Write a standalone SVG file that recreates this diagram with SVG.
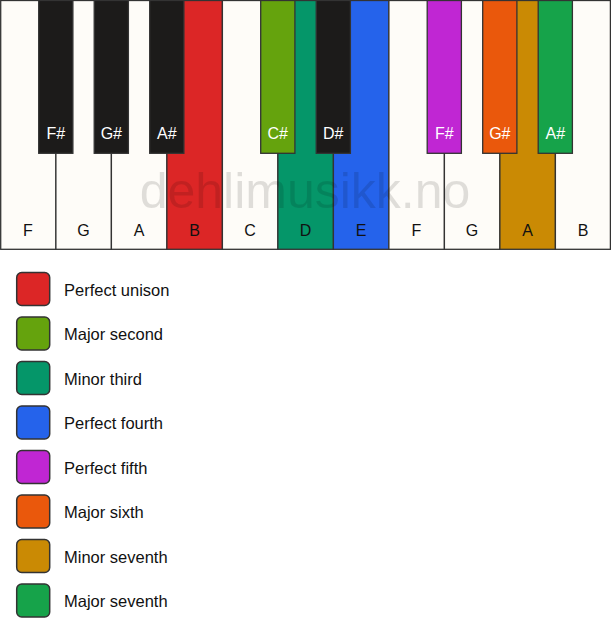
<svg xmlns="http://www.w3.org/2000/svg" width="611" height="639" viewBox="0 0 611 639">
<style>
text{font-family:"Liberation Sans",Arial,sans-serif;font-size:16px}
.w{fill:#fefcf8;stroke:#333;stroke-width:1.3}
.b{fill:#1c1b1a;stroke:#333;stroke-width:1.3}
.wl{fill:#111;text-anchor:middle}
.bl{fill:#fff;text-anchor:middle}
.sw{stroke:#333;stroke-width:1.5}
.lt{fill:#111;font-size:16.5px}
.wm{font-size:50px;fill:#000;fill-opacity:0.12;text-anchor:middle}
</style>
<rect width="611" height="639" fill="#ffffff"/>
<g id="white-keys">
<g id="key-F1"><rect class="w" x="0.7" y="0.5" width="55.2" height="248.8"/><text class="wl" x="28" y="236">F</text></g>
<g id="key-G1"><rect class="w" x="55.9" y="0.5" width="55.5" height="248.8"/><text class="wl" x="83.5" y="236">G</text></g>
<g id="key-A1"><rect class="w" x="111.4" y="0.5" width="55.5" height="248.8"/><text class="wl" x="139" y="236">A</text></g>
<g id="key-B1"><rect class="w" x="166.9" y="0.5" width="55.5" height="248.8" style="fill:#dc2626"/><text class="wl" x="194.5" y="236">B</text></g>
<g id="key-C"><rect class="w" x="222.4" y="0.5" width="55.5" height="248.8"/><text class="wl" x="250" y="236">C</text></g>
<g id="key-D"><rect class="w" x="277.9" y="0.5" width="55.5" height="248.8" style="fill:#059669"/><text class="wl" x="305.5" y="236">D</text></g>
<g id="key-E"><rect class="w" x="333.4" y="0.5" width="55.5" height="248.8" style="fill:#2563eb"/><text class="wl" x="361" y="236">E</text></g>
<g id="key-F2"><rect class="w" x="388.9" y="0.5" width="55.5" height="248.8"/><text class="wl" x="416.5" y="236">F</text></g>
<g id="key-G2"><rect class="w" x="444.4" y="0.5" width="55.5" height="248.8"/><text class="wl" x="472" y="236">G</text></g>
<g id="key-A2"><rect class="w" x="499.9" y="0.5" width="55.5" height="248.8" style="fill:#ca8a04"/><text class="wl" x="527.5" y="236">A</text></g>
<g id="key-B2"><rect class="w" x="555.4" y="0.5" width="55" height="248.8"/><text class="wl" x="583" y="236">B</text></g>
</g>
<text class="wm" x="305" y="208">dehlimusikk.no</text>
<g id="black-keys">
<g id="key-Fs1"><rect class="b" x="38.7" y="0.5" width="34.2" height="152.8"/><text class="bl" x="55.8" y="139">F#</text></g>
<g id="key-Gs1"><rect class="b" x="94.2" y="0.5" width="34.2" height="152.8"/><text class="bl" x="111.3" y="139">G#</text></g>
<g id="key-As1"><rect class="b" x="149.7" y="0.5" width="34.2" height="152.8"/><text class="bl" x="166.8" y="139">A#</text></g>
<g id="key-Cs"><rect class="b" x="260.7" y="0.5" width="34.2" height="152.8" style="fill:#65a30d"/><text class="bl" x="277.8" y="139">C#</text></g>
<g id="key-Ds"><rect class="b" x="316.2" y="0.5" width="34.2" height="152.8"/><text class="bl" x="333.3" y="139">D#</text></g>
<g id="key-Fs2"><rect class="b" x="427.2" y="0.5" width="34.2" height="152.8" style="fill:#c026d3"/><text class="bl" x="444.3" y="139">F#</text></g>
<g id="key-Gs2"><rect class="b" x="482.7" y="0.5" width="34.2" height="152.8" style="fill:#ea580c"/><text class="bl" x="499.8" y="139">G#</text></g>
<g id="key-As2"><rect class="b" x="538.2" y="0.5" width="34.2" height="152.8" style="fill:#16a34a"/><text class="bl" x="555.3" y="139">A#</text></g>
</g>
<g id="legend">
<g id="leg-1"><rect class="sw" x="16.7" y="272.5" width="33" height="33" rx="5" fill="#dc2626"/><text class="lt" x="64" y="295.5">Perfect unison</text></g>
<g id="leg-2"><rect class="sw" x="16.7" y="317" width="33" height="33" rx="5" fill="#65a30d"/><text class="lt" x="64" y="340">Major second</text></g>
<g id="leg-3"><rect class="sw" x="16.7" y="361.5" width="33" height="33" rx="5" fill="#059669"/><text class="lt" x="64" y="384.5">Minor third</text></g>
<g id="leg-4"><rect class="sw" x="16.7" y="406" width="33" height="33" rx="5" fill="#2563eb"/><text class="lt" x="64" y="429">Perfect fourth</text></g>
<g id="leg-5"><rect class="sw" x="16.7" y="450.5" width="33" height="33" rx="5" fill="#c026d3"/><text class="lt" x="64" y="473.5">Perfect fifth</text></g>
<g id="leg-6"><rect class="sw" x="16.7" y="495" width="33" height="33" rx="5" fill="#ea580c"/><text class="lt" x="64" y="518">Major sixth</text></g>
<g id="leg-7"><rect class="sw" x="16.7" y="539.5" width="33" height="33" rx="5" fill="#ca8a04"/><text class="lt" x="64" y="562.5">Minor seventh</text></g>
<g id="leg-8"><rect class="sw" x="16.7" y="584" width="33" height="33" rx="5" fill="#16a34a"/><text class="lt" x="64" y="607">Major seventh</text></g>
</g>
</svg>
